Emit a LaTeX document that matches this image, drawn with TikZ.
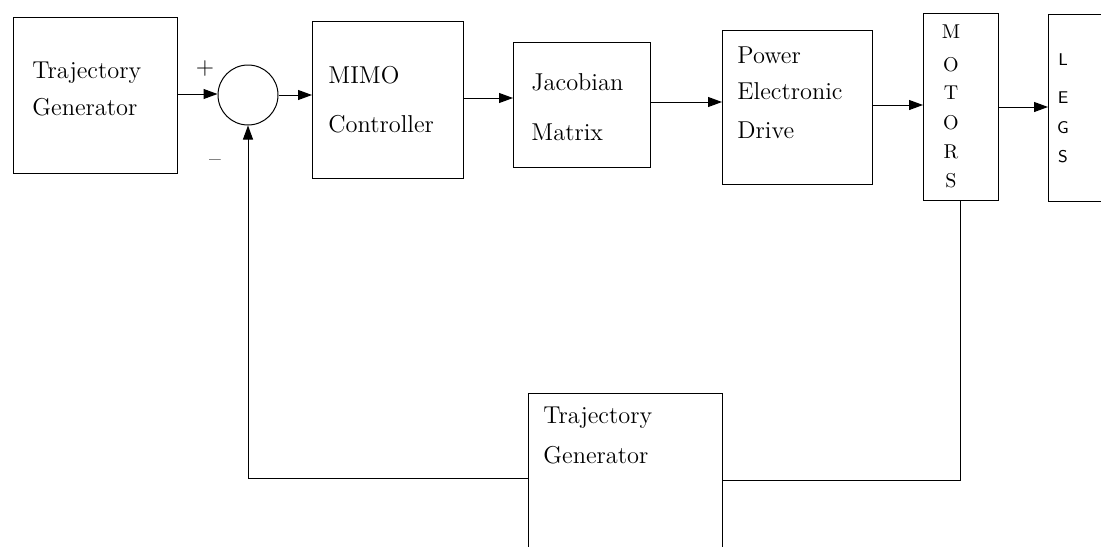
\documentclass[tikz,border=0pt]{standalone}
\usetikzlibrary{arrows.meta,fit}
\begin{document}
\begin{tikzpicture}[x=0.5pt,y=-0.5pt,
  blk/.style={draw, line width=0.5pt, inner sep=0pt, outer sep=0pt},
  txt/.style={anchor=base west, inner sep=0pt, font=\fontsize{12.2}{14}\selectfont},
  ltr/.style={anchor=base, inner sep=0pt, font=\fontsize{10}{12}\selectfont},
  sltr/.style={anchor=base, inner sep=0pt, font=\sffamily\fontsize{8.5}{10}\selectfont},
  sgn/.style={anchor=center, inner sep=0pt, font=\fontsize{12}{14}\selectfont},
  arr/.style={line width=0.5pt, -{Triangle[length=7pt,width=5pt]}},
  ln/.style={line width=0.5pt}]
\useasboundingbox (0,0) rectangle (1101,546);
\clip (0,0) rectangle (1101,546);
% blocks
\node[blk, fit={(13,17) (177,173)}] (tg1) {};
\node[draw, circle, line width=0.5pt, minimum size=30pt, inner sep=0pt] (sum) at (248,95) {};
\node[blk, fit={(312,21) (463,178)}] (mimo) {};
\node[blk, fit={(513,42) (650,167)}] (jac) {};
\node[blk, fit={(722,30) (872,184)}] (ped) {};
\node[blk, fit={(923,13) (998,200)}] (mot) {};
\node[blk, fit={(1048,14) (1120,201)}] (legs) {};
\node[blk, fit={(528,393) (722,570)}] (tg2) {};
% texts
\node[txt] (t1a) at (32,78) {Trajectory};
\node[txt] (t1b) at (32,115) {Generator};
\node[sgn] (plus) at (205,69) {+};
\node[sgn] (minus) at (215,163) {--};
\node[txt] (m1) at (328,83) {MIMO};
\node[txt] (m2) at (328,132) {Controller};
\node[txt] (j1) at (531,90) {Jacobian};
\node[txt] (j2) at (531,140) {Matrix};
\node[txt] (p1) at (737,63) {Power};
\node[txt] (p2) at (737,99) {Electronic};
\node[txt] (p3) at (737,138) {Drive};
\node[ltr] (mo1) at (951,38) {M};
\node[ltr] (mo2) at (951,71) {O};
\node[ltr] (mo3) at (951,99) {T};
\node[ltr] (mo4) at (951,129) {O};
\node[ltr] (mo5) at (951,158) {R};
\node[ltr] (mo6) at (951,187) {S};
\node[sltr] (l1) at (1063,65) {L};
\node[sltr] (l2) at (1063,103) {E};
\node[sltr] (l3) at (1063,133) {G};
\node[sltr] (l4) at (1063,162) {S};
\node[txt] (t2a) at (543,423) {Trajectory};
\node[txt] (t2b) at (543,463) {Generator};
% connectors
\draw[arr] (tg1.east |- 0,94) -- (sum.west |- 0,94);
\draw[arr] (sum.east) -- (sum.east -| mimo.west);
\draw[arr] (mimo.east |- 0,98) -- (jac.west |- 0,98);
\draw[arr] (jac.east |- 0,102) -- (ped.west |- 0,102);
\draw[arr] (ped.east |- 0,105) -- (mot.west |- 0,105);
\draw[arr] (mot.east |- 0,107) -- (legs.west |- 0,107);
\draw[ln] (mot.south) |- (tg2.east |- 0,480);
\draw[arr] (tg2.west |- 0,478) -| (sum.south);
\end{tikzpicture}
\end{document}
